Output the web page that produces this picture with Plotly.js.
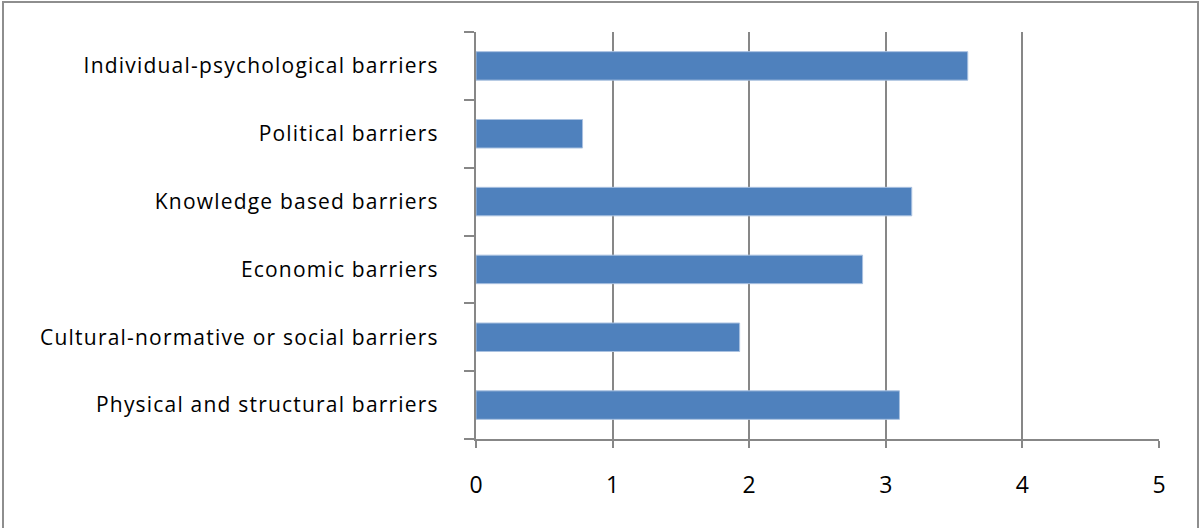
<!DOCTYPE html>
<html>
<head>
<meta charset="utf-8">
<script src="https://cdn.plot.ly/plotly-3.0.1.min.js"></script>
<style>
  html, body { margin: 0; padding: 0; background: #ffffff; overflow: hidden; }
  #chart { position: absolute; left: 0; top: 0; width: 1199px; height: 528px; }
  #frame {
    position: absolute; left: 2px; top: 1px; width: 1193px; height: 600px;
    border: 2px solid #8e8e8e; pointer-events: none;
  }
  /* slightly open tracking on the category labels */
  #chart .ytick text { letter-spacing: 1.2px; }
</style>
</head>
<body>
<div id="chart"></div>
<div id="frame"></div>
<script>
// Barrier categories, listed bottom to top as they appear on the axis
const barriers = [
  'Physical and structural barriers',
  'Cultural-normative or social barriers',
  'Economic barriers',
  'Knowledge based barriers',
  'Political barriers',
  'Individual-psychological barriers'
];
// Mean score for each barrier
const scores = [3.10, 1.93, 2.83, 3.19, 0.78, 3.60];
// Value axis ticks
const xTicks = [0, 1, 2, 3, 4, 5];

const axisGrey = '#878787';

const trace = {
  type: 'bar',
  orientation: 'h',
  x: scores,
  y: barriers,
  marker: { color: '#4f81bd', line: { color: '#a9c1e0', width: 1 } },
  hoverinfo: 'x+y'
};

const layout = {
  width: 1199,
  height: 528,
  margin: { l: 476, r: 40, t: 32, b: 89 },
  paper_bgcolor: '#ffffff',
  plot_bgcolor: '#ffffff',
  showlegend: false,
  bargap: 0.58,
  font: { family: 'Open Sans, Liberation Sans, sans-serif', color: '#000000' },
  xaxis: {
    range: [0, 5],
    tickvals: xTicks,
    ticktext: xTicks.map(String),
    showgrid: true,
    gridcolor: axisGrey,
    gridwidth: 2,
    zeroline: false,
    showline: true,
    linecolor: axisGrey,
    linewidth: 2,
    ticks: 'outside',
    ticklen: 7,
    tickwidth: 2,
    tickcolor: axisGrey,
    ticklabelstandoff: 17,
    tickfont: { size: 23, color: '#000000' }
  },
  yaxis: {
    type: 'category',
    range: [-0.5, 5.5],
    showgrid: false,
    zeroline: false,
    showline: true,
    linecolor: axisGrey,
    linewidth: 2,
    ticks: 'outside',
    tickson: 'boundaries',
    ticklen: 10,
    tickwidth: 2,
    tickcolor: axisGrey,
    ticklabelstandoff: 31,
    tickfont: { size: 21, color: '#000000' }
  }
};

Plotly.newPlot('chart', [trace], layout, { displayModeBar: false, staticPlot: true });
</script>
</body>
</html>
